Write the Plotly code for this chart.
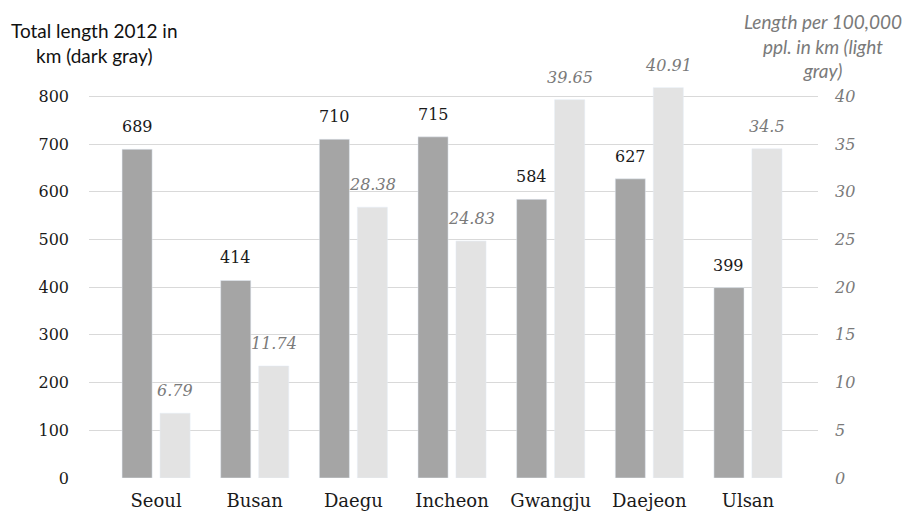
import plotly.graph_objects as go

cities = ["Seoul", "Busan", "Daegu", "Incheon", "Gwangju", "Daejeon", "Ulsan"]
total_km = [689, 414, 710, 715, 584, 627, 399]
per_100k = [6.79, 11.74, 28.38, 24.83, 39.65, 40.91, 34.5]
left_ticks = [0, 100, 200, 300, 400, 500, 600, 700, 800]
right_ticks = [0, 5, 10, 15, 20, 25, 30, 35, 40]

DARK = "#a5a5a5"
LIGHT = "#e3e3e3"
SERIF = "DejaVu Serif"
SANS = "Lato"
GRAY_TXT = "#7a7a7a"

fig = go.Figure()
fig.add_trace(go.Bar(
    x=cities, y=total_km, marker_color=DARK, width=0.305, offset=-0.345,
    yaxis="y", showlegend=False,
))
fig.add_trace(go.Bar(
    x=cities, y=per_100k, marker_color=LIGHT, width=0.305, offset=0.04,
    yaxis="y2", showlegend=False,
))

annotations = []
for i, (c, v) in enumerate(zip(cities, total_km)):
    annotations.append(dict(
        x=i - 0.345 + 0.1525, y=v, xref="x", yref="y", text=str(v),
        showarrow=False, yanchor="bottom", yshift=11,
        font=dict(family=SERIF, size=16, color="#1a1a1a"),
    ))
for i, (c, v) in enumerate(zip(cities, per_100k)):
    annotations.append(dict(
        x=i + 0.04 + 0.1525, y=v, xref="x", yref="y2", text=f"<i>{v:g}</i>",
        showarrow=False, yanchor="bottom", yshift=11,
        font=dict(family=SERIF, size=16, color=GRAY_TXT),
    ))

# axis titles placed above each value axis
annotations.append(dict(
    xref="paper", yref="paper", x=0.008, y=1.0, xanchor="center", yanchor="bottom",
    text="Total length 2012 in<br>km (dark gray)", showarrow=False, align="center",
    yshift=13, font=dict(family=SANS, size=19, color="#111111"),
))
annotations.append(dict(
    xref="paper", yref="paper", x=1.0, y=1.0, xanchor="center", yanchor="bottom",
    text="<i>Length per 100,000<br>ppl. in km (light<br>gray)</i>", showarrow=False,
    align="center", xshift=5, yshift=-2, font=dict(family=SANS, size=19, color=GRAY_TXT),
))

fig.update_layout(
    width=910, height=513,
    margin=dict(l=89, r=92, t=82, b=35, autoexpand=False),
    plot_bgcolor="white", paper_bgcolor="white",
    barmode="overlay",
    annotations=annotations,
    xaxis=dict(
        type="category", range=[-0.68, 6.71], showgrid=False, zeroline=False,
        showline=False, ticks="", ticklabelstandoff=10, automargin=False,
        tickfont=dict(family=SERIF, size=18, color="#1a1a1a"),
    ),
    yaxis=dict(
        range=[0, 830], tickvals=left_ticks, showgrid=True, gridcolor="#d9d9d9",
        gridwidth=1, zeroline=False, showline=False, ticks="", ticklabelstandoff=19,
        automargin=False, tickfont=dict(family=SERIF, size=16, color="#1a1a1a"),
    ),
    yaxis2=dict(
        range=[0, 41.5], tickvals=right_ticks,
        ticktext=[f"<i>{t}</i>" for t in right_ticks],
        overlaying="y", side="right", showgrid=False, zeroline=False,
        showline=False, ticks="", ticklabelstandoff=16, automargin=False,
        tickfont=dict(family=SERIF, size=16, color=GRAY_TXT),
    ),
)

fig.write_html("out.html")
